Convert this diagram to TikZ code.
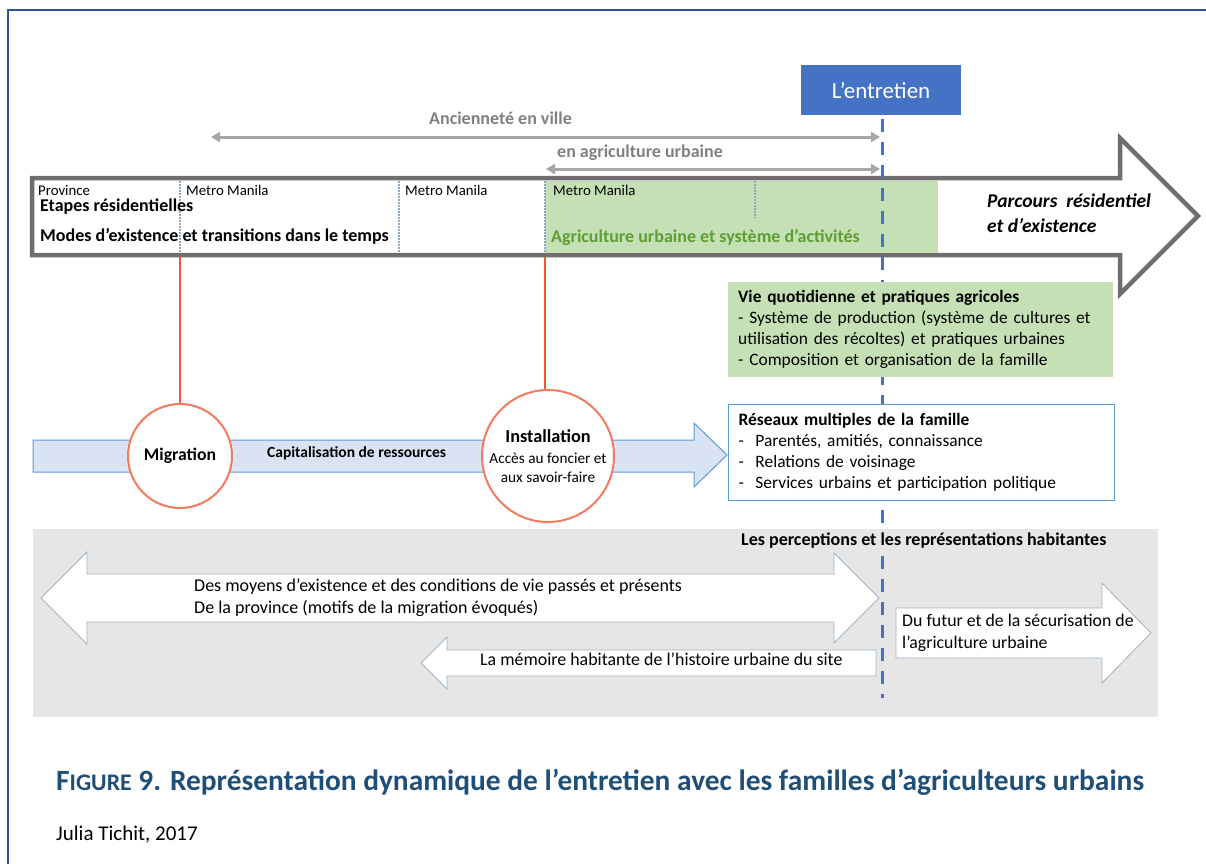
\documentclass[tikz,border=0pt]{standalone}
\usepackage{fontspec}
\setmainfont{Carlito}
\usetikzlibrary{arrows.meta,shapes.geometric}
\definecolor{frameblue}{HTML}{2F5597}
\definecolor{entblue}{HTML}{4472C4}
\definecolor{grayarrow}{HTML}{A6A6A6}
\definecolor{graytext}{HTML}{808080}
\definecolor{bigstroke}{HTML}{6E6E6E}
\definecolor{greenfill}{HTML}{C5E0B4}
\definecolor{greentext}{HTML}{5E9E32}
\definecolor{dotcol}{HTML}{8FA8C0}
\definecolor{redline}{HTML}{F0563A}
\definecolor{coral}{HTML}{F47A5E}
\definecolor{lightblue}{HTML}{DAE3F3}
\definecolor{midblue}{HTML}{5B9BD5}
\definecolor{boxgray}{HTML}{E7E6E6}
\definecolor{wborder}{HTML}{9DB3C8}
\definecolor{captionblue}{HTML}{1F4E79}
\newcommand{\fsz}[2]{\fontsize{#1}{#2}\selectfont}
\tikzset{
  txt/.style={inner sep=0pt, anchor=mid west},
  cell/.style={dotcol, line width=1.2pt, dash pattern=on 1.5pt off 1.5pt},
  grayarr/.style={grayarrow, line width=3pt, {Triangle[length=9pt,width=10pt]}-{Triangle[length=9pt,width=10pt]}},
  redconn/.style={redline, line width=2.2pt},
  whitearrow/.style={fill=white, draw=wborder, line width=0.8pt},
  circnode/.style={circle, draw=coral, line width=2pt, fill=white, inner sep=0pt, align=center}
}
\begin{document}
\begin{tikzpicture}[x=1pt,y=-1pt]
\useasboundingbox (0,0) rectangle (1206,863);
% outer frame
\draw[frameblue, line width=1.5pt] (8,875) -- (8,10) -- (1215,10);

% top gray arrows
\coordinate (anc1) at (211,137);
\coordinate (anc2) at (880,137);
\coordinate (agr1) at (546,169);
\coordinate (agr2) at (880,169);
\draw[grayarr] (anc1) -- (anc2);
\draw[grayarr] (agr1) -- (agr2);
\node[txt, font=\fsz{18}{21}\bfseries, text=graytext] (anct) at (429,122) {Ancienneté en ville};
\node[txt, font=\fsz{18}{21}\bfseries, text=graytext] (agrt) at (557,155) {en agriculture urbaine};

% big arrow
\draw[bigstroke, line width=4.5pt, fill=white, line join=miter]
  (32,178) -- (1120,178) -- (1120,138) -- (1198,216) -- (1120,294) -- (1120,255) -- (32,255) -- cycle;
\fill[greenfill] (545,180.5) rectangle (938,252.5);
\draw[cell] (180,181) -- (180,252);
\draw[cell] (399,181) -- (399,252);
\draw[cell] (545,181) -- (545,252);
\draw[cell] (755,181) -- (755,218);

\node[txt, font=\fsz{14.8}{17}] (prov) at (38,193) {Province};
\node[txt, font=\fsz{14.8}{17}] (mm1) at (186,193) {Metro Manila};
\node[txt, font=\fsz{14.8}{17}] (mm2) at (405,193) {Metro Manila};
\node[txt, font=\fsz{14.8}{17}] (mm3) at (553,193) {Metro Manila};
\node[txt, font=\fsz{18}{21}\bfseries] (etapes) at (40,209) {Etapes résidentielles};
\node[txt, font=\fsz{18}{21}\bfseries] (modes) at (40,239) {Modes d’existence et transitions dans le temps};
\node[txt, font=\fsz{18}{21}\bfseries, text=greentext] (agri) at (551,240) {Agriculture urbaine et système d’activités};
\node[txt, font=\fsz{19.5}{23}\bfseries\itshape] (parc1) at (987,205) {Parcours \ résidentiel};
\node[txt, font=\fsz{19.5}{23}\bfseries\itshape] (parc2) at (987,230) {et d’existence};

% entretien
\node[fill=entblue, text=white, minimum width=160pt, minimum height=50pt, inner sep=0pt, font=\fsz{23}{26}] (ent) at (881,90) {L’entretien};

% gray bottom box
\fill[boxgray] (33,529) rectangle (1158,717);

% dashed line
\coordinate (dashend) at (882,698);
\draw[entblue, line width=3pt, dash pattern=on 13pt off 10pt] ([yshift=-4pt]ent.south) ++(1,0) -- (dashend);

% boxes
\node[fill=greenfill, minimum width=385pt, minimum height=95pt, text width=365pt, inner xsep=10pt, inner ysep=0pt, align=left, font=\fsz{17.4}{21}, anchor=north west] (vie) at (728,282)
  {\textbf{Vie quotidienne et pratiques agricoles}\\- Système de production (système de cultures et\\utilisation des récoltes) et pratiques urbaines\\- Composition et organisation de la famille};
\node[fill=white, draw=midblue, line width=1pt, minimum width=386pt, minimum height=96pt, text width=366pt, inner xsep=10pt, inner ysep=0pt, align=left, font=\fsz{17.4}{21}, anchor=north west] (res) at (728,404)
  {\textbf{Réseaux multiples de la famille}\\\makebox[17pt][l]{-}Parentés, amitiés, connaissance\\\makebox[17pt][l]{-}Relations de voisinage\\\makebox[17pt][l]{-}Services urbains et participation politique};

% blue arrow
\draw[fill=lightblue, draw=midblue, line width=1pt]
  (33,440) -- (694,440) -- (694,423) -- (727,455) -- (694,487) -- (694,472) -- (33,472) -- cycle;
\node[txt, font=\fsz{15.5}{18}\bfseries] (capi) at (267,455) {Capitalisation de ressources};

% red connectors and circles
\coordinate (m0) at (180,257);
\coordinate (i0) at (545,257);
\node[circnode, minimum size=104pt, font=\fsz{17.7}{20}\bfseries] (mig) at (180,456) {Migration};
\node[circnode, minimum size=132pt, font=\fsz{15.3}{18.5}] (inst) at (548,456)
  {{\fsz{18.3}{20}\bfseries Installation}\\[3pt]Accès au foncier et\\aux savoir-faire};
\draw[redconn] (m0) -- (mig.north);
\draw[redconn] (i0) -- (i0 |- inst.north);

% perceptions
\node[txt, fill=boxgray, inner ysep=2pt, font=\fsz{18}{21}\bfseries] (perc) at (741,543) {Les perceptions et les représentations habitantes};
\draw[whitearrow] (41,598) -- (87,552) -- (87,574) -- (834,574) -- (834,553) -- (879,598) -- (834,643) -- (834,622) -- (87,622) -- (87,644) -- cycle;
\node[txt, font=\fsz{18}{21}] (moy1) at (194,589) {Des moyens d'existence et des conditions de vie passés et présents};
\node[txt, font=\fsz{18}{21}] (moy2) at (194,611) {De la province (motifs de la migration évoqués)};
\draw[whitearrow] (421,663) -- (447,637) -- (447,650) -- (876,650) -- (876,676) -- (447,676) -- (447,689) -- cycle;
\node[txt, font=\fsz{17.9}{21}] (mem) at (480,663) {La mémoire habitante de l’histoire urbaine du site};
\draw[whitearrow] (896,608) -- (1102,608) -- (1102,583) -- (1151,633) -- (1102,683) -- (1102,658) -- (896,658) -- cycle;
\node[txt, font=\fsz{17.8}{21}] (fut1) at (902,624) {Du futur et de la sécurisation de};
\node[txt, font=\fsz{17.8}{21}] (fut2) at (902,646) {l’agriculture urbaine};

% caption
\node[txt, font=\fsz{29.4}{32}\bfseries, text=captionblue] (cap) at (56,788)
  {F{\fsz{23.8}{32}IGURE} 9. Représentation dynamique de l’entretien avec les familles d’agriculteurs urbains};
\node[txt, font=\fsz{21}{24}] (auth) at (56,838) {Julia Tichit, 2017};
\end{tikzpicture}
\end{document}
